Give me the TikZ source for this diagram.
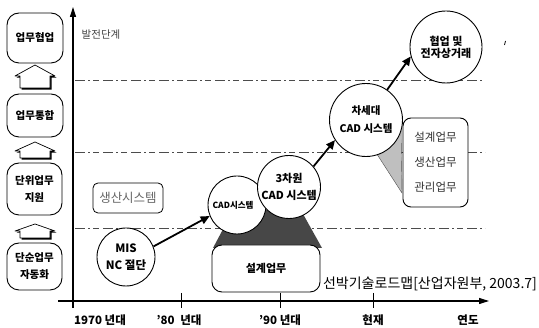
\documentclass[tikz,border=0pt]{standalone}
\usepackage{fontspec}
\setmainfont{Noto Sans CJK KR}
\usetikzlibrary{arrows.meta}
\newcommand\uparr[3]{%
  \fill[black] (16.5,#2+1.6) -- (36.5,#1+1.6) -- (56.5,#2+1.6) -- (51.5,#2+1.6) -- (51.5,#3+1.6) -- (21.5,#3+1.6) -- (21.5,#2+1.6) -- cycle;
  \draw[fill=white, line width=0.7pt, line join=round] (15,#2) -- (35,#1) -- (55,#2) -- (50,#2) -- (50,#3) -- (20,#3) -- (20,#2) -- cycle;}
\begin{document}
\begin{tikzpicture}[x=1pt,y=-1pt,
  lbox/.style={draw, line width=0.9pt, rounded corners=12pt, fill=white, inner sep=0pt, align=center,
    font=\bfseries\fontsize{10.5}{17}\selectfont},
  circ/.style={circle, draw, line width=0.9pt, fill=white, inner sep=0pt, align=center},
  gline/.style={line width=0.5pt, black!70, dash pattern=on 10pt off 3pt on 2pt off 3pt on 6pt off 4pt},
  bigarrow/.style={line width=1.8pt, -{Triangle[length=9pt,width=8pt]}},
  axisline/.style={line width=1.1pt},
  tick/.style={line width=0.7pt},
  axlabel/.style={font=\bfseries\fontsize{11.5}{13}\selectfont, inner sep=0pt},
]
\useasboundingbox (0,0) rectangle (539,328);

% guide lines
\coordinate (g1a) at (75,80);  \coordinate (g1b) at (483,80);
\coordinate (g2a) at (75,152); \coordinate (g2b) at (485,152);
\coordinate (g3a) at (75,228); \coordinate (g3b) at (485,228);
\draw[gline] (g1a) -- (g1b);
\draw[gline] (g2a) -- (g2b);
\draw[gline] (g3a) -- (g3b);

% axes
\coordinate (xs) at (58,301); \coordinate (xe) at (489,301);
\coordinate (ys) at (73,308); \coordinate (ye) at (73,7);
\draw[axisline, -{Triangle[length=10pt,width=6pt]}] (xs) -- (xe);
\draw[axisline, -{Triangle[length=10pt,width=6pt]}] (ys) -- (ye);
\coordinate (t1a) at (181,293); \coordinate (t1b) at (181,308);
\coordinate (t2a) at (280,293); \coordinate (t2b) at (280,308);
\coordinate (t3a) at (373,293); \coordinate (t3b) at (373,308);
\draw[tick] (t1a) -- (t1b);
\draw[tick] (t2a) -- (t2b);
\draw[tick] (t3a) -- (t3b);

\node[axlabel] (l1970) at (100,320) {1970 년대};
\node[axlabel] (l80) at (179,320) {'80\enspace 년대};
\node[axlabel] (l90) at (280,320) {'90 년대};
\node[axlabel] (lnow) at (373,320) {현재};
\node[axlabel] (lyear) at (468,320) {연도};
\node[font=\fontsize{10.5}{12}\selectfont, text=black!75, inner sep=0pt] (ylab) at (101,35) {발전단계};

% left stage boxes
\node[lbox, minimum width=56pt, minimum height=50pt] (b1) at (35,38) {업무협업};
\node[lbox, minimum width=56pt, minimum height=43pt] (b2) at (35,115.5) {업무통합};
\node[lbox, minimum width=55pt, minimum height=52pt] (b3) at (34.5,189) {단위업무\\지원};
\node[lbox, minimum width=55pt, minimum height=47pt] (b4) at (34.5,266.5) {단순업무\\자동화};
\uparr{65}{76}{88}
\uparr{142}{151}{158}
\uparr{224}{231}{238}

% shaded regions
\fill[black!72] (213,248) -- (322,248) -- (298,205) -- (230,216) -- cycle;
\filldraw[fill=black!25, draw=black!70, line width=0.4pt] (401,122) -- (373,148) -- (402,193) -- cycle;

% boxes
\node[draw, line width=0.8pt, rounded corners=5pt, fill=white, minimum width=70pt, minimum height=30pt,
  inner sep=0pt, text=black!60, font=\fontsize{12.5}{14}\selectfont] (prod) at (128,198) {생산시스템};
\node[draw, line width=0.9pt, rounded corners=10pt, fill=white, minimum width=108pt, minimum height=47pt,
  inner sep=0pt, font=\bfseries\fontsize{11}{13}\selectfont] (design) at (266,268.5) {설계업무};
\node[draw, line width=0.9pt, rounded corners=8pt, fill=white, minimum width=65pt, minimum height=89pt,
  inner sep=0pt, align=center, text=black!80, font=\fontsize{11.5}{25}\selectfont] (work) at (435.5,162.5) {설계업무\\생산업무\\관리업무};

% circles
\node[circ, minimum size=58pt, font=\bfseries\fontsize{11.5}{17}\selectfont] (mis) at (126,257) {MIS\\NC 절단};
\node[circ, minimum size=58pt, font=\bfseries\fontsize{8.5}{10}\selectfont] (cad) at (237,205) {\hspace*{-8pt}CAD시스템};
\node[circ, minimum size=63pt, font=\bfseries\fontsize{11}{17}\selectfont] (c3d) at (289,187) {3차원\\CAD 시스템};
\node[circ, minimum size=73pt, font=\bfseries\fontsize{10.5}{18}\selectfont] (cnext) at (366,120) {차세대\\CAD 시스템};
\node[circ, minimum size=72pt, font=\bfseries\fontsize{11}{12}\selectfont] (collab) at (446,47) {협업 및\\전자상거래};

% arrows
\draw[bigarrow] (mis.21) -- (cad.202);
\draw[bigarrow] (c3d.40) -- (cnext.213);
\draw[bigarrow] (cnext.55) -- (collab.195);

% caption
\node[font=\fontsize{14}{16}\selectfont, inner sep=0pt] (cap) at (430,284) {선박기술로드맵[산업자원부, 2003.7]};

% stray mark
\coordinate (m1) at (505.5,41); \coordinate (m2) at (504.5,45);
\draw[line width=0.8pt] (m1) -- (m2);
\end{tikzpicture}
\end{document}
